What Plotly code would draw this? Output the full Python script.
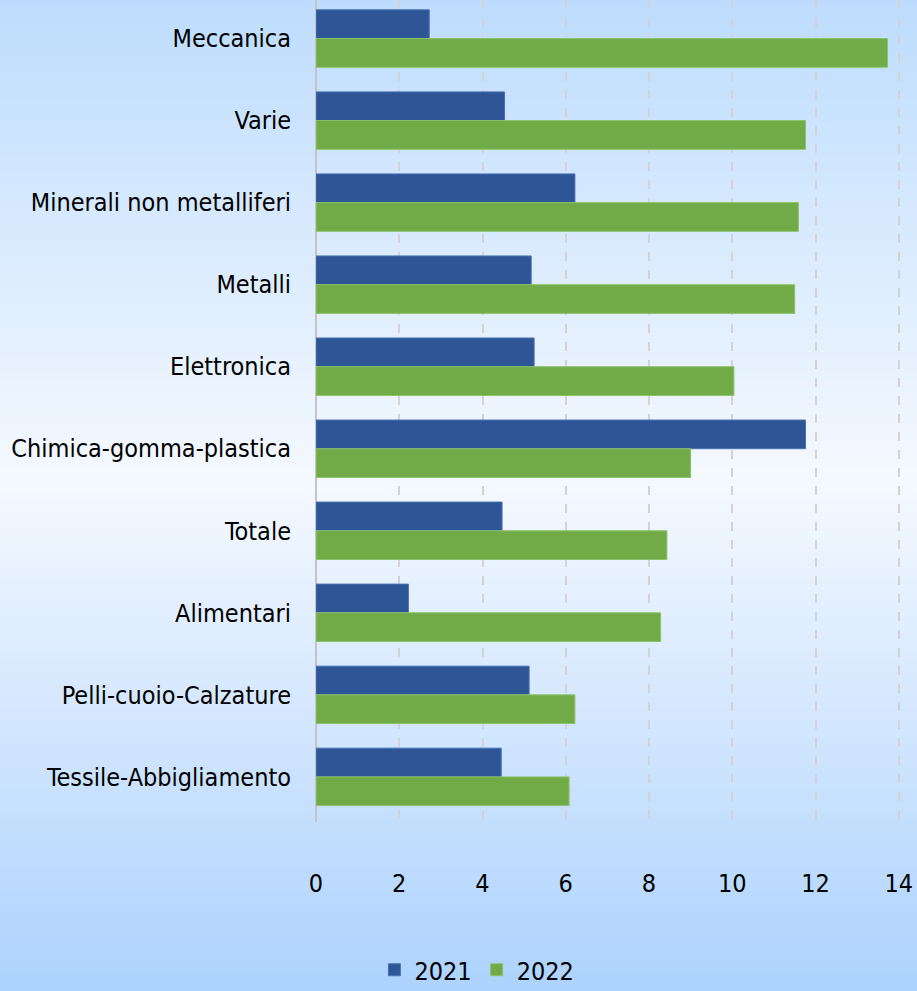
import plotly.graph_objects as go

# ---------------------------------------------------------------------------
# data
# ---------------------------------------------------------------------------
categories = [
    "Meccanica",
    "Varie",
    "Minerali non metalliferi",
    "Metalli",
    "Elettronica",
    "Chimica-gomma-plastica",
    "Totale",
    "Alimentari",
    "Pelli-cuoio-Calzature",
    "Tessile-Abbigliamento",
]
values_2021 = [2.72, 4.53, 6.22, 5.17, 5.24, 11.76, 4.47, 2.22, 5.12, 4.45]
values_2022 = [13.73, 11.76, 11.59, 11.50, 10.04, 9.00, 8.43, 8.28, 6.22, 6.08]
series_names = ["2021", "2022"]
x_ticks = [0, 2, 4, 6, 8, 10, 12, 14]

# ---------------------------------------------------------------------------
# look
# ---------------------------------------------------------------------------
W, H = 917, 991
M_L, M_R, M_T, M_B = 316, 17, 0, 169
PLOT_H = H - M_T - M_B
PLOT_W = W - M_L - M_R
FONT = "DejaVu Sans Condensed, Liberation Sans, sans-serif"
FS = 25
BLUE = "#2e5596"
GREEN = "#70ab47"

# vertical background gradient: light blue -> almost white -> light blue
STOPS = [(0, (189, 220, 253)), (480, (245, 249, 255)), (991, (172, 210, 254))]


def grad_color(p):
    for (p0, c0), (p1, c1) in zip(STOPS[:-1], STOPS[1:]):
        if p0 <= p <= p1:
            t = (p - p0) / (p1 - p0)
            return "rgb(%d,%d,%d)" % tuple(round(a + (b - a) * t) for a, b in zip(c0, c1))
    return "rgb(%d,%d,%d)" % STOPS[-1][1]


def px_to_paper_y(p):
    return (H - M_B - p) / PLOT_H


shapes = []
step = 4
for p in range(0, H, step):
    shapes.append(dict(
        type="rect", xref="paper", yref="paper", layer="below",
        x0=-M_L / PLOT_W - 0.01, x1=1 + M_R / PLOT_W + 0.01,
        y0=px_to_paper_y(p + step + 1), y1=px_to_paper_y(p),
        fillcolor=grad_color(p + step / 2), line=dict(width=0),
    ))

fig = go.Figure()
for name, vals, col, edge in [
    (series_names[0], values_2021, BLUE, "#4a72b3"),
    (series_names[1], values_2022, GREEN, "#8cc36a"),
]:
    fig.add_trace(go.Bar(
        y=categories, x=vals, name=name, orientation="h",
        marker=dict(color=col, line=dict(color=edge, width=1)),
        hoverinfo="x+y+name",
    ))

fig.update_layout(
    width=W, height=H,
    margin=dict(l=M_L, r=M_R, t=M_T, b=M_B, pad=0, autoexpand=False),
    paper_bgcolor="rgba(0,0,0,0)",
    plot_bgcolor="rgba(0,0,0,0)",
    barmode="group",
    bargap=0.30,
    bargroupgap=0,
    shapes=shapes,
    font=dict(family=FONT, size=FS, color="black"),
    showlegend=True,
    legend=dict(
        orientation="h", x=0.10, xanchor="left", y=px_to_paper_y(970),
        yanchor="middle", font=dict(family=FONT, size=FS, color="black"),
        bgcolor="rgba(0,0,0,0)", itemwidth=30, tracegroupgap=0,
    ),
    xaxis=dict(
        range=[0, 14.03], tickvals=x_ticks, ticktext=[str(v) for v in x_ticks],
        showgrid=True, gridcolor="#d3d3d3", gridwidth=1.5, griddash="dash",
        zeroline=True, zerolinecolor="#c4c4c4", zerolinewidth=1.5,
        showline=False, ticks="", ticklabelstandoff=44, automargin=False,
        tickfont=dict(family=FONT, size=FS, color="black"),
        fixedrange=True,
    ),
    yaxis=dict(
        categoryorder="array", categoryarray=categories,
        range=[9.55, -0.47], showgrid=False, zeroline=False, showline=False,
        ticks="", ticklabelstandoff=24, automargin=False,
        tickfont=dict(family=FONT, size=FS, color="black"),
        fixedrange=True,
    ),
)

# drop the browser's default body margin so the figure fills the window
fig.write_html(
    "out.html",
    config={"displayModeBar": False},
    post_script="document.body.style.margin='0';document.body.style.overflow='hidden';",
)
